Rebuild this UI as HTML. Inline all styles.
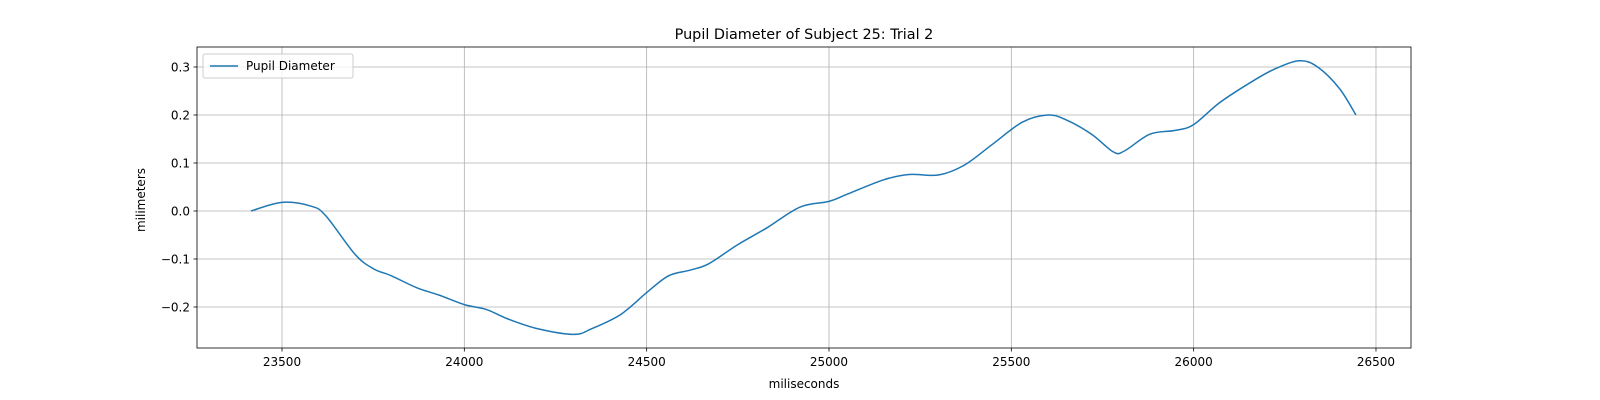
<!DOCTYPE html>
<html><head><meta charset="utf-8"><style>
body{margin:0;background:#fff;}
svg{display:block;font-family:"DejaVu Sans","Liberation Sans",sans-serif;}
</style></head><body>
<svg id="chart" width="1600" height="400">
<rect x="0" y="0" width="1600" height="400" fill="#fff"/>
<g id="grid"></g>
<g id="ticks"></g>
<path id="line" fill="none" stroke="#1f77b4" stroke-width="1.5"/>
<rect x="197" y="47" width="1214" height="301" fill="none" stroke="#000" stroke-width="0.8"/>
<text x="804" y="39" font-size="14.4" text-anchor="middle">Pupil Diameter of Subject 25: Trial 2</text>
<text x="804" y="388" font-size="12" text-anchor="middle">miliseconds</text>
<text x="145" y="200" font-size="12" text-anchor="middle" transform="rotate(-90 145 200)">milimeters</text>
<g>
<rect x="203" y="54" width="150" height="24" rx="2" fill="#fff" fill-opacity="0.8" stroke="#ccc"/>
<line x1="210" y1="66" x2="238" y2="66" stroke="#1f77b4" stroke-width="1.5"/>
<text x="246" y="70" font-size="12">Pupil Diameter</text>
</g>
</svg>
<script>
const xs=[23415,23500,23580,23620,23700,23750,23800,23870,23930,24000,24060,24120,24200,24300,24350,24430,24500,24560,24620,24670,24750,24830,24920,25000,25050,25150,25220,25300,25370,25450,25530,25600,25650,25720,25780,25810,25880,25950,26000,26070,26150,26220,26290,26340,26400,26445];
const ys=[0.0,0.018,0.01,-0.01,-0.09,-0.12,-0.135,-0.16,-0.175,-0.195,-0.205,-0.225,-0.245,-0.257,-0.245,-0.215,-0.17,-0.135,-0.123,-0.11,-0.07,-0.035,0.008,0.02,0.035,0.065,0.076,0.075,0.095,0.14,0.185,0.2,0.19,0.16,0.123,0.125,0.16,0.168,0.18,0.225,0.265,0.295,0.313,0.3,0.255,0.2];
const xTicks=[23500,24000,24500,25000,25500,26000,26500];
const yTicks=[-0.2,-0.1,0.0,0.1,0.2,0.3];
const yLabels=["\u22120.2","\u22120.1","0.0","0.1","0.2","0.3"];
const X=v=>282+(v-23500)*(182.33/500);
const Y=v=>211-v*480;
const NS="http://www.w3.org/2000/svg";
const grid=document.getElementById('grid'),ticks=document.getElementById('ticks');
function mk(tag,attrs,parent){const e=document.createElementNS(NS,tag);for(const k in attrs)e.setAttribute(k,attrs[k]);parent.appendChild(e);return e;}
xTicks.forEach(t=>{const x=X(t);
const g=mk('line',{x1:x,x2:x,y1:47,y2:348,stroke:'#b0b0b0','stroke-width':0.8},grid);


mk('line',{x1:x,x2:x,y1:348,y2:351.5,stroke:'#000','stroke-width':0.8},ticks);
const tx=mk('text',{x:x,y:366,'font-size':12,'text-anchor':'middle'},ticks);tx.textContent=t;

});
yTicks.forEach((t,i)=>{const y=Y(t);
const g=mk('line',{x1:197,x2:1411,y1:y,y2:y,stroke:'#b0b0b0','stroke-width':0.8},grid);


mk('line',{x1:193.5,x2:197,y1:y,y2:y,stroke:'#000','stroke-width':0.8},ticks);
const tx=mk('text',{x:190,y:y+4.5,'font-size':12,'text-anchor':'end'},ticks);tx.textContent=yLabels[i];

});
const P=xs.map((v,i)=>[X(v),Y(ys[i])]);
let d='M'+P[0][0]+','+P[0][1];
for(let i=0;i<P.length-1;i++){const p0=P[Math.max(0,i-1)],p1=P[i],p2=P[i+1],p3=P[Math.min(P.length-1,i+2)];
const c1=[p1[0]+(p2[0]-p0[0])/6,p1[1]+(p2[1]-p0[1])/6],c2=[p2[0]-(p3[0]-p1[0])/6,p2[1]-(p3[1]-p1[1])/6];
d+=' C'+c1+' '+c2+' '+p2;}
document.getElementById('line').setAttribute('d',d);
</script>
</body></html>
